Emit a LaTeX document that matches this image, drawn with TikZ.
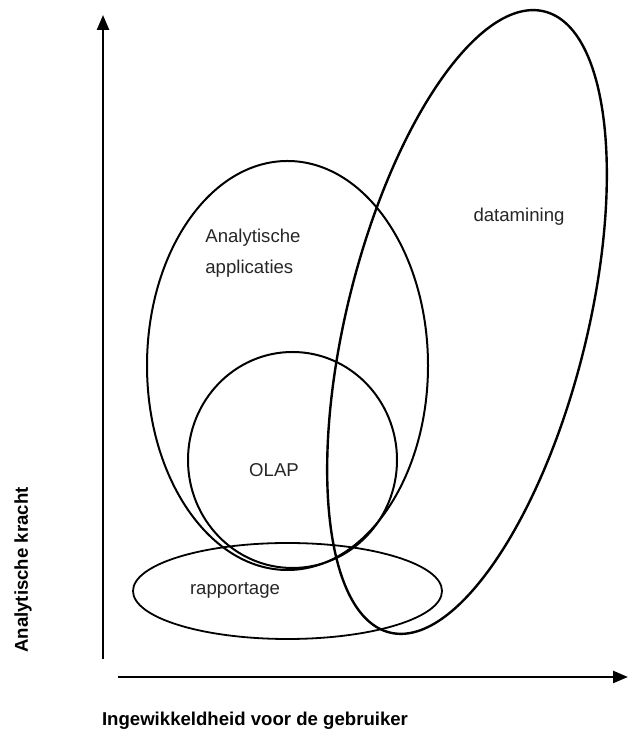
\documentclass[tikz,border=0pt]{standalone}
\usepackage{fontspec}
\setmainfont{Liberation Sans}
\usetikzlibrary{arrows.meta}
\begin{document}
\begin{tikzpicture}[x=0.5pt,y=0.5pt,>={Triangle[length=7.5pt,width=6pt]},
  setline/.style={line width=1pt},
  settext/.style={inner sep=0pt,font=\fontsize{9.3}{15.5}\selectfont,text=black!85},
  axistext/.style={inner sep=0pt,font=\fontsize{9.3}{11}\selectfont\bfseries}]
\useasboundingbox (0,0) rectangle (629,737);
% axes
\coordinate (yStart) at (103,78);
\coordinate (yEnd) at (103,722);
\coordinate (xStart) at (118,60);
\coordinate (xEnd) at (628,60);
\draw [line width=1.2pt,->] (yStart) -- (yEnd);
\draw [line width=1.2pt,->] (xStart) -- (xEnd);
\node [axistext,rotate=90] (yLabel) at (23,167) {Analytische kracht};
\node [axistext] (xLabel) at (255,16) {Ingewikkeldheid voor de gebruiker};
%
\coordinate (apps) at (287.5,371.5);
\coordinate (olap) at (292.5,277);
\coordinate (rapp) at (287.5,146);
\coordinate (dmin) at (467,415);
\draw [setline] (apps) ellipse [x radius=140.5,y radius=204.5];
\draw [setline] (olap) ellipse [x radius=104.5,y radius=108];
\draw [line width=0.9pt] (rapp) ellipse [x radius=154.5,y radius=48];
\draw [line width=1.2pt,rotate around={76:(dmin)}] (dmin) ellipse [x radius=320,y radius=120];
%
\node [settext,anchor=west,align=left] (appsText) at (205,484) {Analytische\\applicaties};
\node [settext] (olapText) at (274,267) {OLAP};
\node [settext] (rappText) at (235,147) {rapportage};
\node [settext] (dminText) at (519,520) {datamining};
\end{tikzpicture}
\end{document}
